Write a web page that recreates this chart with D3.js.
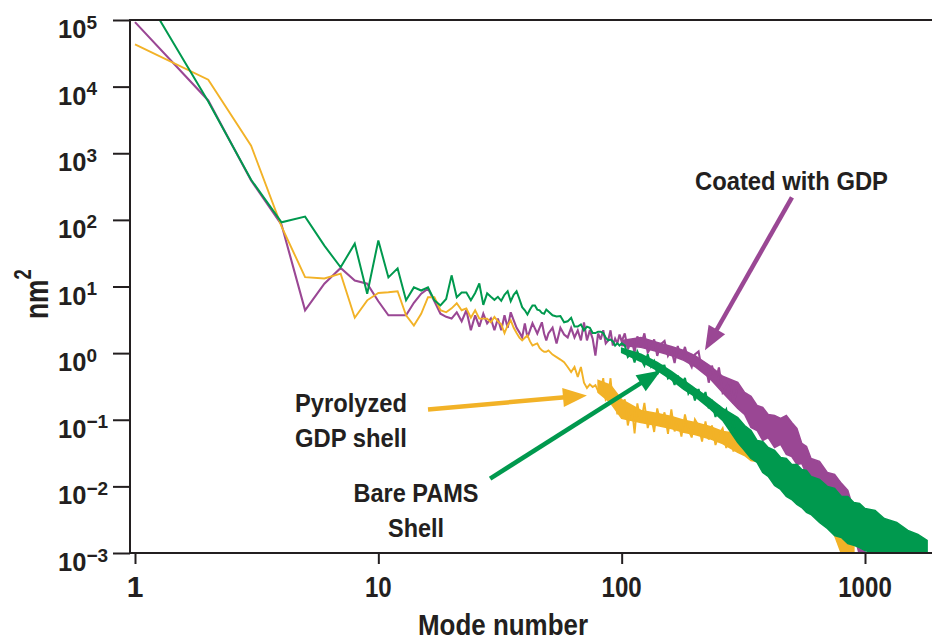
<!DOCTYPE html>
<html><head><meta charset="utf-8">
<script src="https://cdn.jsdelivr.net/npm/d3@7"></script>
<style>
body{margin:0;background:#fff}
svg{display:block}
text{font-family:"Liberation Sans",Arial,Helvetica,sans-serif;font-weight:bold;fill:#231f20}
</style>
</head><body>
<svg id="c" width="932" height="643"></svg>
<script>
// ---- data (mode number vs nm^2) ----
const modes = [1,2,3,4,5,6,7,8,9,10,11,12,13,14,15,16,17,18,19,20,21,22,23,24,25,26,27,28,29,30,
  31,32,33,34,35,36,37,38,39,40,41,42,43,44,45,46,47,48,49,50,
  52,54,56,58,60,62,64,66,68,70,72,74,76,78,80,82,84,86,88,90,92,94,96,98,100,
  103,106,110,113,116,120,124,128,132,136,140,145,150,155,160,165,170,176,182,188,194,200,
  207,214,221,228,235,243,251,260,269,278,288,298];

const coatedGDP = [93000,6200,390,85,4.4,11,19,12.3,11,6,3.7,3.7,3.7,5.7,7.8,9.3,6.0,3.9,3.5,3.3,
  4.1,3.0,4.4,2.2,3.7,2.5,3.9,2.8,3.3,2.2,3.3,2.2,3.7,2.4,4.1,3.1,2.4,2.05,1.72,2.8,
  1.72,2.2,2.8,2.35,1.97,2.4,2.9,1.97,1.55,1.97,
  2.4,1.4,2.4,1.9,1.72,2.4,1.72,2.2,1.55,2.9,1.55,2.2,1.65,0.92,1.97,1.6,2.2,1.4,1.55,2.2,1.3,1.65,1.4,1.9,1.5,
  1.98,1.14,1.55,1.02,1.78,1.31,1.98,1.02,1.22,1.61,0.91,1.37,1.52,0.91,1.12,0.71,1.28,0.83,1.24,0.78,0.62,0.96,
  1.06,0.53,0.68,0.36,0.65,0.376,0.61,0.257,0.305,0.40,0.176,0.285];

const pyrolyzedGDP = [43000,12700,1300,80,13.8,13.2,15.6,3.4,6.2,8.0,8.2,8.5,3.7,2.6,3.9,6.9,6.9,4.4,4.1,4.7,
  5.6,4.4,4.7,3.4,4.4,3.3,3.3,3.3,2.9,3.5,3.0,2.7,2.0,2.6,3.1,2.4,2.0,1.7,1.55,1.7,
  1.85,1.5,1.3,1.35,1.4,1.2,1.1,1.05,1.05,1.1,
  0.95,0.87,0.8,0.73,0.62,0.52,0.62,0.44,0.62,0.36,0.3,0.34,0.31,0.33,0.27,0.28,0.42,0.2,0.22,0.42,0.18,0.22,0.12,0.2,0.15,
  0.202,0.082,0.158,0.0623,0.176,0.091,0.179,0.075,0.116,0.0656,0.148,0.085,0.129,0.0612,0.143,0.0667,0.105,0.056,0.12,0.0703,0.0542,0.101,
  0.082,0.0472,0.0944,0.0506,0.082,0.0418,0.0601,0.074,0.0377,0.0623,0.0334,0.0542];

const barePAMS = [420000,6000,400,92,112,41,19.4,44,7.8,49,13.7,18.7,6.2,9.7,8.7,9.7,6.2,5.2,6.5,14.7,
  6.9,8.1,8.1,6.2,8,11.1,5.3,7.9,7,6.3,7,6.1,7.5,8.5,6.0,7.5,8.5,6.5,4.9,4.4,
  3.8,4.5,5.2,5.2,4.5,4.4,4.0,3.9,4.5,4.2,
  3.7,3.55,3.6,2.9,3.0,3.4,2.5,2.5,2.7,2.2,2.5,2.4,2.0,2.0,2.1,2.1,2.0,1.7,1.55,1.6,1.5,1.3,1.4,1.3,1.4,
  1.31,0.877,1.02,0.725,1.06,0.82,0.65,0.96,0.63,0.76,0.48,0.64,0.65,0.417,0.46,0.333,0.46,0.322,0.424,0.248,0.30,0.195,
  0.29,0.188,0.261,0.148,0.185,0.11,0.164,0.114,0.143,0.075,0.096,0.055];

// dense part of the trace: upper / lower edge of its solid core
const bandModes = [80,90,100,120,140,160,180,200,230,260,
  300,320,340,360,380,400,425,450,475,500,525,550,575,600,650,700,750,800,850,900,950,1000,1100,1200,1350,1500,1650,1800];
const coatedHi = [null,null,1.55,1.72,1.45,1.26,1.1,0.92,0.65,0.45,
  0.363,0.257,0.224,0.164,0.153,0.12,0.116,0.105,0.116,0.091,0.0741,0.0441,0.0397,0.0262,0.0237,0.0162,0.0151,0.0111,0.0087,0.00435,0.00233,0.00109,null,null,null,null,null,null];
const coatedLo = [null,null,1.3,1.22,1.06,0.92,0.78,0.63,0.42,0.257,
  0.148,0.12,0.0766,0.069,0.0489,0.0542,0.0384,0.0426,0.0301,0.0281,0.0213,0.0221,0.0151,0.0141,0.009,0.0078,0.00573,0.00554,0.0033,0.00196,0.00092,0.00072,null,null,null,null,null,null];
const pyrolyzedHi = [0.39,0.33,0.2,0.138,0.124,0.112,0.098,0.091,0.079,0.0667,
  0.0623,0.0524,0.0489,0.0426,0.0397,0.0346,0.0291,0.0272,0.0229,0.0206,0.0173,0.0162,0.0136,0.0123,0.01,0.0078,0.00658,0.00517,0.00308,0.0013,null,null,null,null,null,null,null,null];
const pyrolyzedLo = [0.257,0.18,0.105,0.091,0.082,0.074,0.065,0.06,0.052,0.044,
  0.0323,0.0291,0.0245,0.0237,0.0206,0.0199,0.0173,0.0151,0.0132,0.0115,0.01,0.0087,0.00757,0.00658,0.00517,0.00366,0.00183,0.00098,0.00077,0.00077,null,null,null,null,null,null,null,null];
const bareHi = [null,null,1.18,0.96,0.725,0.53,0.39,0.295,0.209,0.148,
  0.108,0.082,0.069,0.0489,0.0472,0.0384,0.0346,0.0272,0.0262,0.0213,0.0213,0.0179,0.0173,0.0141,0.0127,0.01,0.0093,0.00705,0.00705,0.00573,0.00554,0.00466,0.00435,0.0033,0.00287,0.00218,0.0019,0.00154];
const bareLo = [null,null,1.02,0.75,0.55,0.40,0.285,0.224,0.148,0.098,
  0.0456,0.0346,0.0262,0.0229,0.0162,0.0141,0.0103,0.009,0.00705,0.00636,0.00535,0.00482,0.00406,0.00379,0.00287,0.00233,0.00183,0.00171,0.00139,0.0013,0.00121,0.00109,0.00098,0.00089,0.00089,0.00089,0.00089,0.00089];

const yTicks = [1e-3,1e-2,1e-1,1e0,1e1,1e2,1e3,1e4,1e5];
const yTickExp = ["\u22123","\u22122","\u22121","0","1","2","3","4","5"];
const xTicks = [1,10,100,1000];
const xTickLabels = ["1","10","100","1000"];

// annotation arrows, tail and tip in data units [mode, nm^2]
const arrows = [
  {series:"coated", tail:[501,218], tip:[220,1.1]},
  {series:"pyrolyzed", tail:[16,0.143], tip:[72,0.232]},
  {series:"bare", tail:[28.8,0.0131], tip:[145,0.55]}
];

const colors = {coated:"#9a4794", pyrolyzed:"#f2b227", bare:"#00994e"};
const ink = "#231f20";

// ---- drawing ----
const svg = d3.select("#c");
const L = 130, R = 932, T = 20, B = 553;
const x = d3.scaleLog().domain([1,1000]).range([135,865]);
const y = d3.scaleLog().domain([1e-3,1e5]).range([B,T]);

svg.append("defs").append("clipPath").attr("id","plot")
  .append("rect").attr("x",L).attr("y",T).attr("width",R-L).attr("height",B-T);

const plot = svg.append("g").attr("clip-path","url(#plot)");

const line = d3.line().x(d=>x(d[0])).y(d=>y(d[1]));
const area = d3.area().defined(d=>d[1]!=null).x(d=>x(d[0])).y0(d=>y(d[2])).y1(d=>y(d[1]));

const series = [
  {key:"coated", vals:coatedGDP, hi:coatedHi, lo:coatedLo, w:2.1},
  {key:"pyrolyzed", vals:pyrolyzedGDP, hi:pyrolyzedHi, lo:pyrolyzedLo, w:1.9},
  {key:"bare", vals:barePAMS, hi:bareHi, lo:bareLo, w:2}
];
series.forEach(s=>{
  const c = colors[s.key];
  const band = bandModes.map((m,i)=>[m,s.hi[i],s.lo[i]]);
  plot.append("path").datum(band).attr("d",area).attr("fill",c).attr("stroke",c).attr("stroke-width",1.5).attr("stroke-linejoin","miter");
  plot.append("path").datum(modes.map((m,i)=>[m,s.vals[i]])).attr("d",line)
    .attr("fill","none").attr("stroke",c).attr("stroke-width",s.w).attr("stroke-linejoin","miter").attr("stroke-miterlimit",3);
});

// axes frame
const ax = svg.append("g").attr("stroke",ink).attr("stroke-width",2).attr("fill","none");
ax.append("line").attr("x1",L).attr("x2",L).attr("y1",T-1).attr("y2",B+1);
ax.append("line").attr("x1",L).attr("x2",R).attr("y1",T).attr("y2",T);
ax.append("line").attr("x1",L-1).attr("x2",R).attr("y1",B).attr("y2",B);

// y axis ticks via d3 axis
const yAxis = svg.append("g").attr("transform",`translate(${L},0)`)
  .call(d3.axisLeft(y).tickValues(yTicks).tickSize(17).tickSizeOuter(0).tickFormat(""));
yAxis.select(".domain").remove();
yAxis.selectAll(".tick line").attr("stroke",ink).attr("stroke-width",2);
yTicks.forEach((v,i)=>{
  const t = svg.append("text").attr("x",58).attr("y",y(v)+18).style("font-size","25.5px");
  t.append("tspan").text("10");
  t.append("tspan").attr("dy",-9.5).style("font-size","19px").text(yTickExp[i]);
});

const xAxis = svg.append("g").attr("transform",`translate(0,${B})`)
  .call(d3.axisBottom(x).tickValues(xTicks).tickSize(11).tickSizeOuter(0).tickFormat(""));
xAxis.select(".domain").remove();
xAxis.selectAll(".tick line").attr("stroke",ink).attr("stroke-width",2);
xTicks.forEach((v,i)=>{
  svg.append("text").attr("x",x(v)).attr("y",597).attr("text-anchor","middle")
    .style("font-size","30px")
    .attr("textLength", xTickLabels[i].length>1 ? xTickLabels[i].length*13.4 : null)
    .attr("lengthAdjust","spacingAndGlyphs").text(xTickLabels[i]);
});

// axis titles
svg.append("text").attr("x",503).attr("y",635).attr("text-anchor","middle")
  .style("font-size","30px").attr("textLength",170).attr("lengthAdjust","spacingAndGlyphs").text("Mode number");
const yt = svg.append("text").attr("transform","translate(48,319) rotate(-90) scale(0.8,1)")
  .style("font-size","33px");
yt.append("tspan").text("nm");
yt.append("tspan").attr("dy",-17).style("font-size","23px").text("2");

// annotations
function addLabel(txt,xp,yp,len,anchor){
  svg.append("text").attr("x",xp).attr("y",yp).attr("text-anchor",anchor||"start")
    .style("font-size","26px").attr("textLength",len).attr("lengthAdjust","spacingAndGlyphs").text(txt);
}
addLabel("Coated with GDP",695,190,193);
addLabel("Pyrolyzed",295,411.7,112);
addLabel("GDP shell",295,446.7,112);
addLabel("Bare PAMS",416,501.7,125,"middle");
addLabel("Shell",416,536.7,56,"middle");

arrows.forEach(a=>{
  const c = colors[a.series];
  const x0=x(a.tail[0]), y0=y(a.tail[1]), x1=x(a.tip[0]), y1=y(a.tip[1]);
  const dx=x1-x0, dy=y1-y0, len=Math.hypot(dx,dy), ux=dx/len, uy=dy/len;
  const hl=24, hw=19;
  const bx=x1-ux*hl, by=y1-uy*hl;
  svg.append("line").attr("x1",x0).attr("y1",y0).attr("x2",bx+ux*2).attr("y2",by+uy*2)
    .attr("stroke",c).attr("stroke-width",4.5);
  svg.append("path").attr("d",`M${x1},${y1}L${bx-uy*hw/2},${by+ux*hw/2}L${bx+uy*hw/2},${by-ux*hw/2}Z`).attr("fill",c);
});
</script>
</body></html>
